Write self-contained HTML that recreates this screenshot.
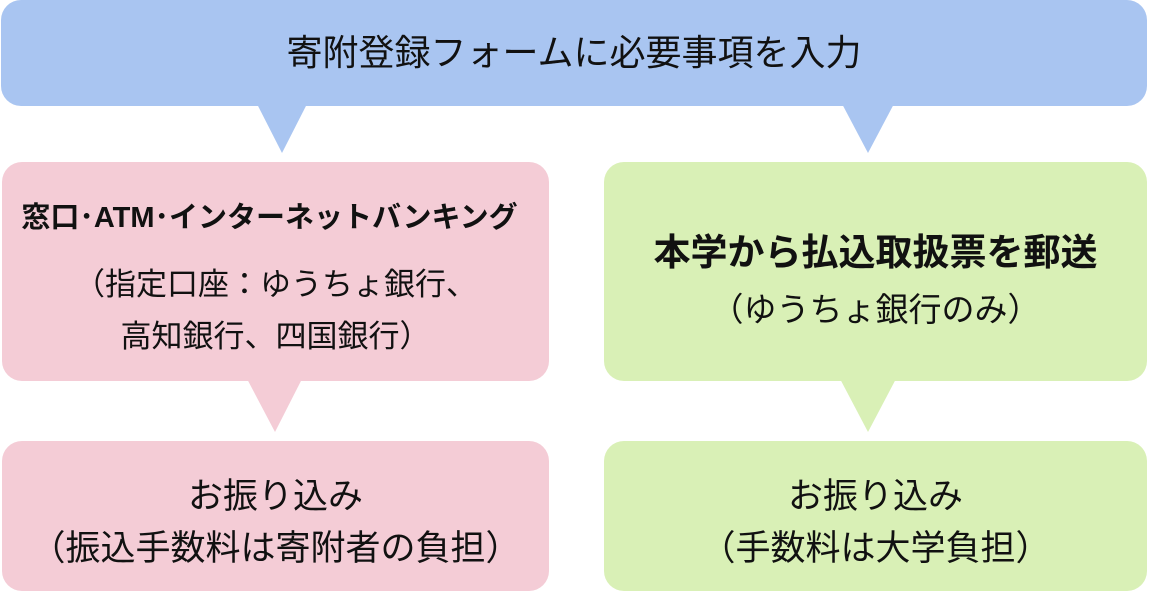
<!DOCTYPE html>
<html><head><meta charset="utf-8"><style>
body{margin:0;width:1149px;height:592px;background:#fff;position:relative;overflow:hidden;font-family:"Liberation Sans","Noto Sans CJK JP",sans-serif;color:#111}
.b{position:absolute;border-radius:20px}
.blue{background:#a9c5f1}.pink{background:#f4ccd6}.green{background:#d9f0b6}
.t{position:absolute;height:50px;line-height:50px;text-align:center;white-space:nowrap}
svg{position:absolute;left:0;top:0}
</style></head><body>
<svg width="1149" height="592">
<polygon points="255,100 309,100 282,153" fill="#a9c5f1"/>
<polygon points="840,100 896,100 868,153" fill="#a9c5f1"/>
<polygon points="245,375 304,375 275,432" fill="#f4ccd6"/>
<polygon points="838,375 898,375 868,432" fill="#d9f0b6"/>
</svg>
<div class="b blue" style="left:1px;top:0;width:1146px;height:106px"></div>
<div class="b pink" style="left:2px;top:162px;width:547px;height:219px"></div>
<div class="b green" style="left:604px;top:162px;width:543px;height:219px"></div>
<div class="b pink" style="left:2px;top:441px;width:547px;height:150px"></div>
<div class="b green" style="left:604px;top:441px;width:543px;height:150px"></div>

<div class="t" style="left:1px;width:1146px;top:28px;font-size:36px">寄附登録フォームに必要事項を入力</div>
<div class="t" style="left:2px;width:535px;top:193px;font-size:29px;font-weight:bold">窓口･ATM･インターネットバンキング</div>
<div class="t" style="left:2px;width:547px;top:260px;font-size:31px">（指定口座：ゆうちょ銀行、</div>
<div class="t" style="left:2px;width:547px;top:312px;font-size:31px">高知銀行、四国銀行）</div>
<div class="t" style="left:604px;width:543px;top:228px;font-size:37px;font-weight:bold">本学から払込取扱票を郵送</div>
<div class="t" style="left:604px;width:543px;top:285px;font-size:33px">（ゆうちょ銀行のみ）</div>
<div class="t" style="left:2px;width:547px;top:472px;font-size:35px">お振り込み</div>
<div class="t" style="left:2px;width:547px;top:524px;font-size:35px">（振込手数料は寄附者の負担）</div>
<div class="t" style="left:604px;width:543px;top:472px;font-size:35px">お振り込み</div>
<div class="t" style="left:604px;width:543px;top:524px;font-size:35px">（手数料は大学負担）</div>
</body></html>
